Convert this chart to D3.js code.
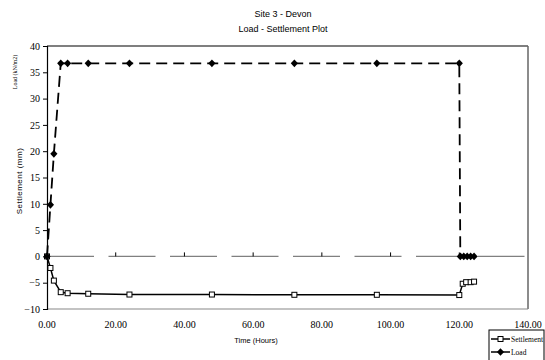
<!DOCTYPE html>
<html><head><meta charset="utf-8">
<script src="https://cdn.jsdelivr.net/npm/d3@7"></script>
<style>body{margin:0;background:#fff}svg{display:block}</style>
</head><body>
<svg id="c" width="545" height="360"></svg>
<script>
const titleLines = ["Site 3 - Devon", "Load - Settlement Plot"];
const xTicks = [0, 20, 40, 60, 80, 100, 120, 140];
const yTicks = [-10, -5, 0, 5, 10, 15, 20, 25, 30, 35, 40];
const settleTime = [0, 1, 2, 4, 6, 12, 24, 48, 72, 96, 120, 121, 122, 123.3, 124.3];
const settleVal  = [0, -2.2, -4.6, -6.8, -7.0, -7.1, -7.25, -7.25, -7.3, -7.3, -7.35, -5.2, -4.9, -4.9, -4.8];
const loadTime = [0, 1, 2, 4, 6, 12, 24, 48, 72, 96, 120, 120.3, 121.3, 122.3, 123.3, 124.3];
const loadVal  = [0, 9.8, 19.5, 36.7, 36.7, 36.7, 36.7, 36.7, 36.7, 36.7, 36.7, 0, 0, 0, 0, 0];
const seriesNames = ["Settlement", "Load"];

const svg = d3.select("#c");
const L = 47, R = 528, T = 46, B = 309;
const x = d3.scaleLinear().domain([0, 140]).range([L, R]);
const y = d3.scaleLinear().domain([-10, 40]).range([B, T]);

svg.selectAll("text.title").data(titleLines).enter().append("text")
  .attr("x", 283).attr("y", (d, i) => 17 + i * 14.5)
  .attr("text-anchor", "middle").attr("font-family", "Liberation Sans, Arial")
  .attr("font-size", 9).text(d => d);

svg.append("line").attr("x1", L).attr("x2", R).attr("y1", T).attr("y2", T).attr("stroke", "#000").attr("stroke-width", 1.2);
svg.append("line").attr("x1", R).attr("x2", R).attr("y1", T).attr("y2", B).attr("stroke", "#666").attr("stroke-width", 1.5);
svg.append("line").attr("x1", L).attr("x2", R).attr("y1", B).attr("y2", B).attr("stroke", "#888").attr("stroke-width", 1.2);

const yAxis = d3.axisLeft(y).tickValues(yTicks).tickSize(4).tickFormat(d3.format("d"));
const gy = svg.append("g").attr("transform", `translate(${L},0)`).call(yAxis);
gy.select(".domain").attr("stroke", "#000").attr("stroke-width", 1.2);
gy.selectAll(".tick line").attr("stroke", "#000");
gy.selectAll(".tick text").attr("font-family", "Liberation Serif, Times New Roman").attr("font-size", 10).attr("fill", "#000").attr("x", -7);

svg.append("line").attr("x1", L).attr("x2", R).attr("y1", y(0)).attr("y2", y(0))
  .attr("stroke", "#808080").attr("stroke-width", 1.3).attr("stroke-dasharray", "47,14.5");
svg.selectAll("line.xt").data(xTicks.slice(1, -1)).enter().append("line")
  .attr("x1", d => x(d)).attr("x2", d => x(d)).attr("y1", y(0)).attr("y2", y(0) - 4)
  .attr("stroke", "#000").attr("stroke-width", 1);
svg.selectAll("text.xl").data(xTicks).enter().append("text")
  .attr("x", d => x(d)).attr("y", 328).attr("text-anchor", "middle")
  .attr("font-family", "Liberation Serif, Times New Roman").attr("font-size", 10)
  .text(d => d3.format(".2f")(d));

svg.append("text").attr("x", 256).attr("y", 343).attr("text-anchor", "middle")
  .attr("font-family", "Liberation Sans, Arial").attr("font-size", 7.5).text("Time (Hours)");
svg.append("text").attr("transform", "translate(22,181) rotate(-90)").attr("text-anchor", "middle")
  .attr("font-family", "Liberation Sans, Arial").attr("font-size", 8).attr("letter-spacing", 0.5).text("Settlement (mm)");
svg.append("text").attr("transform", "translate(17,72) rotate(-90)").attr("text-anchor", "middle")
  .attr("font-family", "Liberation Serif, Times New Roman").attr("font-size", 6).text("Load (kN/m2)");

const sData = settleTime.map((t, i) => [t, settleVal[i]]);
const lData = loadTime.map((t, i) => [t, loadVal[i]]);
const line = d3.line().x(d => x(d[0])).y(d => y(d[1]));
svg.append("path").datum(sData).attr("d", line).attr("fill", "none").attr("stroke", "#000").attr("stroke-width", 1.5);
svg.selectAll("rect.sq").data(sData).enter().append("rect")
  .attr("x", d => x(d[0]) - 2.5).attr("y", d => y(d[1]) - 2.5).attr("width", 5).attr("height", 5)
  .attr("fill", "#fff").attr("stroke", "#000").attr("stroke-width", 1);

svg.append("path").datum(lData).attr("d", line).attr("fill", "none").attr("stroke", "#000")
  .attr("stroke-width", 1.8).attr("stroke-dasharray", "11,6");
const dia = "M0,-3.8L3.6,0L0,3.8L-3.6,0Z";
svg.selectAll("path.dm").data(lData).enter().append("path")
  .attr("d", dia).attr("transform", d => `translate(${x(d[0])},${y(d[1])})`).attr("fill", "#000");

const lg = svg.append("g").attr("transform", "translate(489,330)");
lg.append("rect").attr("x", 0).attr("y", 0).attr("width", 55).attr("height", 32).attr("fill", "#fff").attr("stroke", "#000").attr("stroke-width", 1);
seriesNames.forEach((n, i) => {
  const yy = 9 + i * 13;
  lg.append("line").attr("x1", 2).attr("x2", 21).attr("y1", yy).attr("y2", yy).attr("stroke", "#000").attr("stroke-width", 1.5);
  if (i === 0) lg.append("rect").attr("x", 9).attr("y", yy - 2.5).attr("width", 5).attr("height", 5).attr("fill", "#fff").attr("stroke", "#000");
  else lg.append("path").attr("d", dia).attr("transform", `translate(11.5,${yy})`).attr("fill", "#000");
  lg.append("text").attr("x", 22).attr("y", yy + 2.5).attr("font-family", "Liberation Serif, Times New Roman").attr("font-size", 7.5).text(n);
});
</script>
</body></html>
